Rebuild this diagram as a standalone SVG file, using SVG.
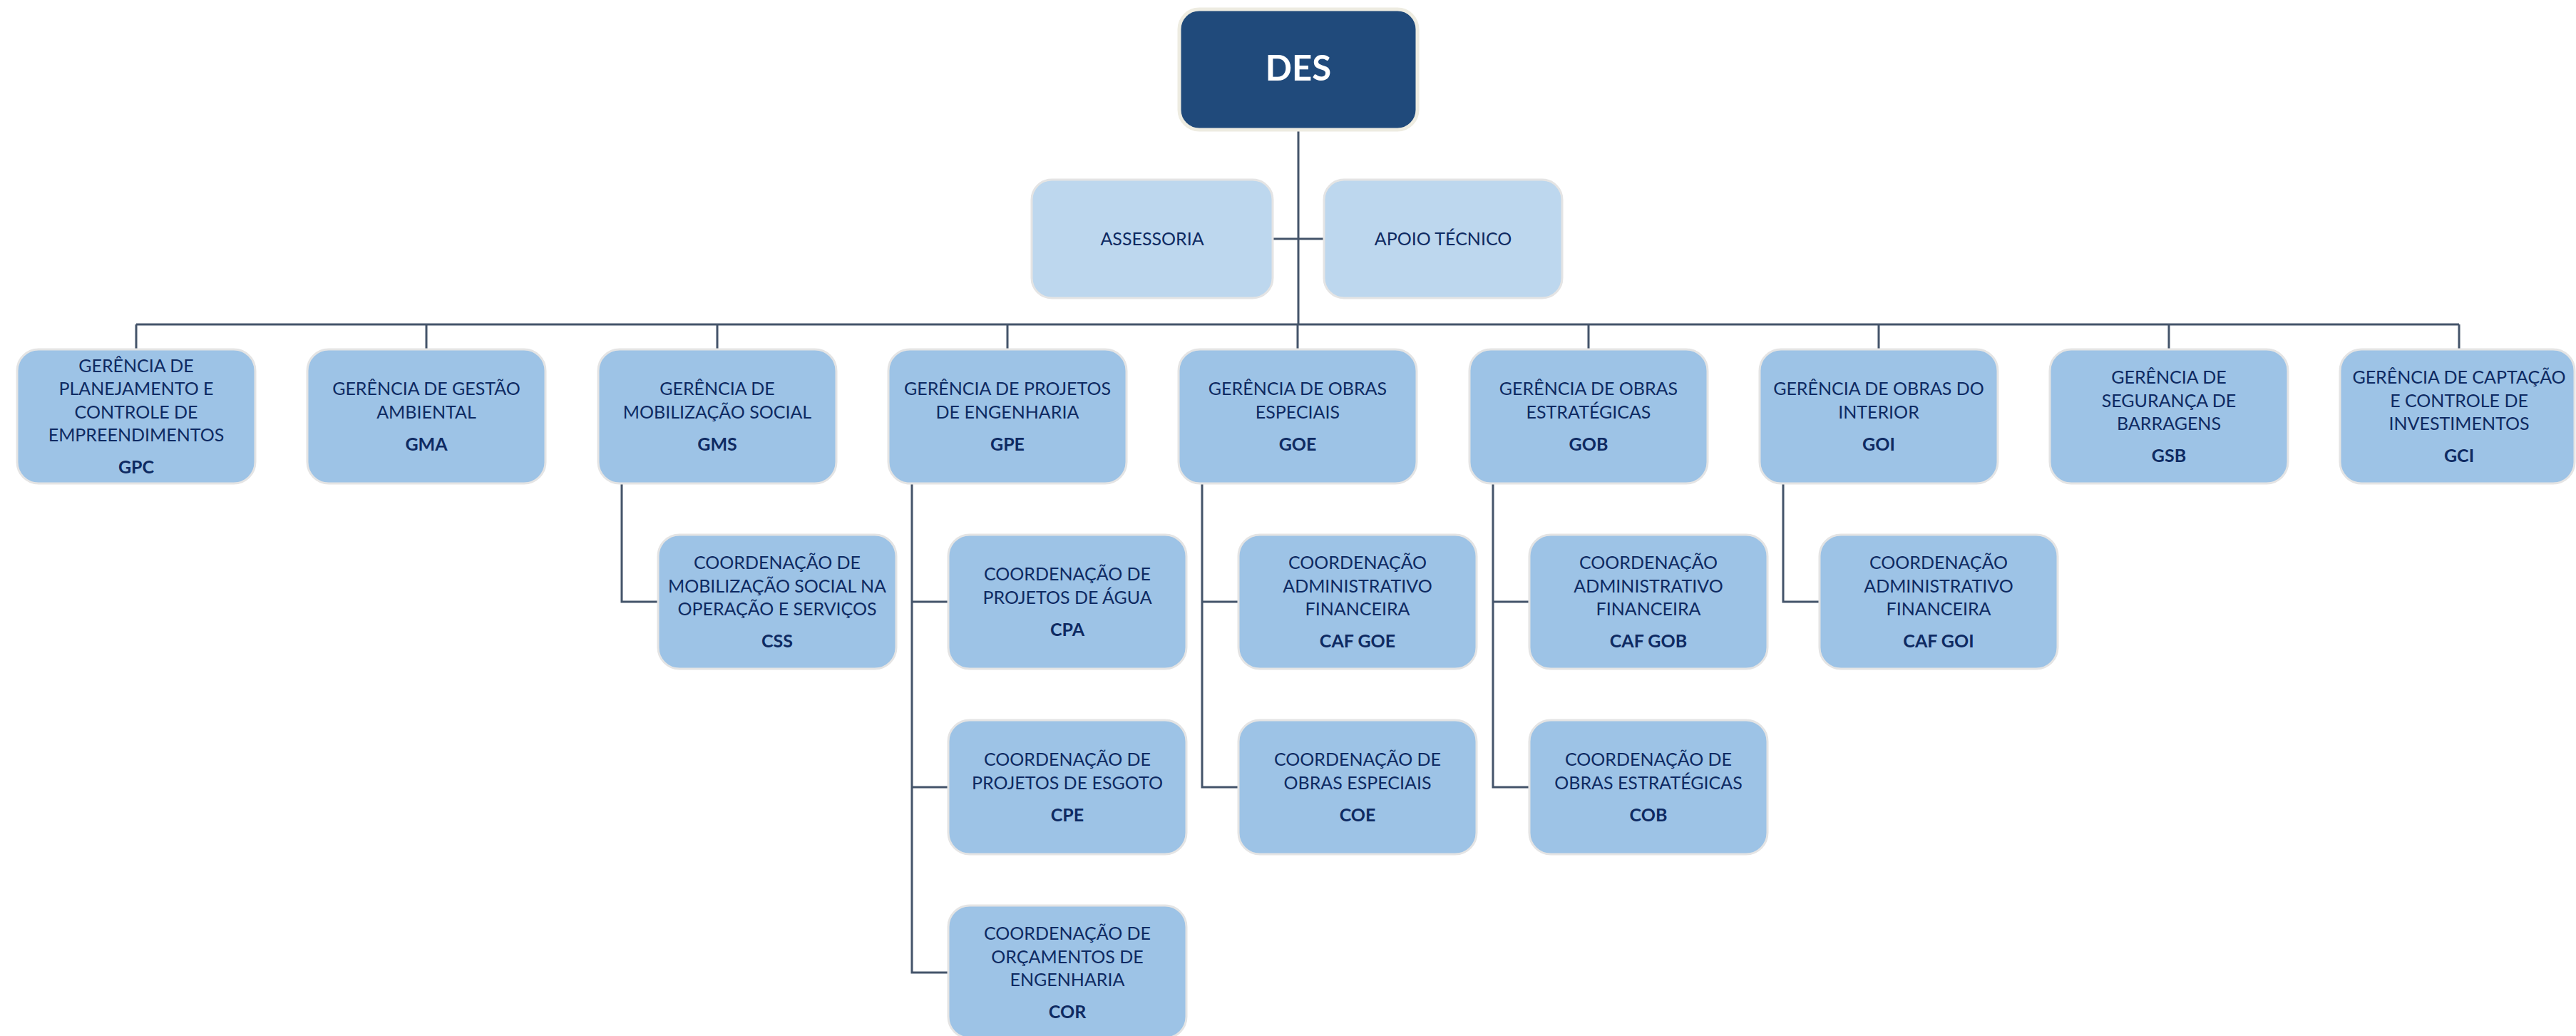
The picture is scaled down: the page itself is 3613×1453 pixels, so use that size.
<svg xmlns="http://www.w3.org/2000/svg" width="3613" height="1453" viewBox="0 0 3613 1453">
<style>
.bg{fill:#ffffff}
.top{fill:#204A7B;stroke:#EEECE1;stroke-width:5}
.aux{fill:#BDD7EE;stroke:#E4E4E4;stroke-width:3}
.box{fill:#9DC3E6;stroke:#E4E4E4;stroke-width:3}
.conn{fill:none;stroke:#44546A;stroke-width:3}
text{font-family:Lato,"Open Sans","Liberation Sans",sans-serif;font-size:25px;fill:#0E2A62;text-anchor:middle}
.code{font-weight:bold}
.des{font-size:49px;font-weight:bold;fill:#ffffff}
</style>
<rect class="bg" x="0" y="0" width="3613" height="1453"/>
<g id="connectors">
<path class="conn" d="M1821 182V455M191 455H3449M1785 335H1857"/>
<path class="conn" d="M191 455V490M598 455V490M1006 455V490M1413 455V490M1820 455V490M2228 455V490M2635 455V490M3042 455V490M3449 455V490"/>
<path class="conn" d="M872 678V844H923"/>
<path class="conn" d="M1279 678V1364H1330M1279 844H1330M1279 1104H1330"/>
<path class="conn" d="M1686 678V1104H1737M1686 844H1737"/>
<path class="conn" d="M2094 678V1104H2145M2094 844H2145"/>
<path class="conn" d="M2501 678V844H2552"/>
</g>
<g id="DES"><rect class="top" x="1654" y="13" width="334" height="169" rx="28"/><text class="des" x="1821" y="113">DES</text></g>
<g id="ASSESSORIA"><rect class="aux" x="1447" y="252" width="338" height="166" rx="28"/><text x="1616" y="344">ASSESSORIA</text></g>
<g id="APOIO"><rect class="aux" x="1857" y="252" width="334" height="166" rx="28"/><text x="2024" y="344">APOIO TÉCNICO</text></g>

<g id="GPC"><rect class="box" x="24" y="490" width="334" height="188" rx="30"/><text x="191"><tspan x="191" y="521.8">GERÊNCIA DE</tspan><tspan x="191" y="554.3">PLANEJAMENTO E</tspan><tspan x="191" y="586.8">CONTROLE DE</tspan><tspan x="191" y="619.3">EMPREENDIMENTOS</tspan><tspan class="code" x="191" y="664.3">GPC</tspan></text></g>
<g id="GMA"><rect class="box" x="431" y="490" width="334" height="188" rx="30"/><text x="598"><tspan x="598" y="554.3">GERÊNCIA DE GESTÃO</tspan><tspan x="598" y="586.8">AMBIENTAL</tspan><tspan class="code" x="598" y="631.8">GMA</tspan></text></g>
<g id="GMS"><rect class="box" x="839" y="490" width="334" height="188" rx="30"/><text x="1006"><tspan x="1006" y="554.3">GERÊNCIA DE</tspan><tspan x="1006" y="586.8">MOBILIZAÇÃO SOCIAL</tspan><tspan class="code" x="1006" y="631.8">GMS</tspan></text></g>
<g id="GPE"><rect class="box" x="1246" y="490" width="334" height="188" rx="30"/><text x="1413"><tspan x="1413" y="554.3">GERÊNCIA DE PROJETOS</tspan><tspan x="1413" y="586.8">DE ENGENHARIA</tspan><tspan class="code" x="1413" y="631.8">GPE</tspan></text></g>
<g id="GOE"><rect class="box" x="1653" y="490" width="334" height="188" rx="30"/><text x="1820"><tspan x="1820" y="554.3">GERÊNCIA DE OBRAS</tspan><tspan x="1820" y="586.8">ESPECIAIS</tspan><tspan class="code" x="1820" y="631.8">GOE</tspan></text></g>
<g id="GOB"><rect class="box" x="2061" y="490" width="334" height="188" rx="30"/><text x="2228"><tspan x="2228" y="554.3">GERÊNCIA DE OBRAS</tspan><tspan x="2228" y="586.8">ESTRATÉGICAS</tspan><tspan class="code" x="2228" y="631.8">GOB</tspan></text></g>
<g id="GOI"><rect class="box" x="2468" y="490" width="334" height="188" rx="30"/><text x="2635"><tspan x="2635" y="554.3">GERÊNCIA DE OBRAS DO</tspan><tspan x="2635" y="586.8">INTERIOR</tspan><tspan class="code" x="2635" y="631.8">GOI</tspan></text></g>
<g id="GSB"><rect class="box" x="2875" y="490" width="334" height="188" rx="30"/><text x="3042"><tspan x="3042" y="538">GERÊNCIA DE</tspan><tspan x="3042" y="570.5">SEGURANÇA DE</tspan><tspan x="3042" y="603">BARRAGENS</tspan><tspan class="code" x="3042" y="648">GSB</tspan></text></g>
<g id="GCI"><rect class="box" x="3282" y="490" width="329" height="188" rx="30"/><text x="3449"><tspan x="3449" y="538">GERÊNCIA DE CAPTAÇÃO</tspan><tspan x="3449" y="570.5">E CONTROLE DE</tspan><tspan x="3449" y="603">INVESTIMENTOS</tspan><tspan class="code" x="3449" y="648">GCI</tspan></text></g>

<g id="CSS"><rect class="box" x="923" y="750" width="334" height="188" rx="30"/><text x="1090"><tspan x="1090" y="798">COORDENAÇÃO DE</tspan><tspan x="1090" y="830.5">MOBILIZAÇÃO SOCIAL NA</tspan><tspan x="1090" y="863">OPERAÇÃO E SERVIÇOS</tspan><tspan class="code" x="1090" y="908">CSS</tspan></text></g>
<g id="CPA"><rect class="box" x="1330" y="750" width="334" height="188" rx="30"/><text x="1497"><tspan x="1497" y="814.3">COORDENAÇÃO DE</tspan><tspan x="1497" y="846.8">PROJETOS DE ÁGUA</tspan><tspan class="code" x="1497" y="891.8">CPA</tspan></text></g>
<g id="CPE"><rect class="box" x="1330" y="1010" width="334" height="188" rx="30"/><text x="1497"><tspan x="1497" y="1074.3">COORDENAÇÃO DE</tspan><tspan x="1497" y="1106.8">PROJETOS DE ESGOTO</tspan><tspan class="code" x="1497" y="1151.8">CPE</tspan></text></g>
<g id="COR"><rect class="box" x="1330" y="1270" width="334" height="186" rx="30"/><text x="1497"><tspan x="1497" y="1318">COORDENAÇÃO DE</tspan><tspan x="1497" y="1350.5">ORÇAMENTOS DE</tspan><tspan x="1497" y="1383">ENGENHARIA</tspan><tspan class="code" x="1497" y="1428">COR</tspan></text></g>
<g id="CAF_GOE"><rect class="box" x="1737" y="750" width="334" height="188" rx="30"/><text x="1904"><tspan x="1904" y="798">COORDENAÇÃO</tspan><tspan x="1904" y="830.5">ADMINISTRATIVO</tspan><tspan x="1904" y="863">FINANCEIRA</tspan><tspan class="code" x="1904" y="908">CAF GOE</tspan></text></g>
<g id="COE"><rect class="box" x="1737" y="1010" width="334" height="188" rx="30"/><text x="1904"><tspan x="1904" y="1074.3">COORDENAÇÃO DE</tspan><tspan x="1904" y="1106.8">OBRAS ESPECIAIS</tspan><tspan class="code" x="1904" y="1151.8">COE</tspan></text></g>
<g id="CAF_GOB"><rect class="box" x="2145" y="750" width="334" height="188" rx="30"/><text x="2312"><tspan x="2312" y="798">COORDENAÇÃO</tspan><tspan x="2312" y="830.5">ADMINISTRATIVO</tspan><tspan x="2312" y="863">FINANCEIRA</tspan><tspan class="code" x="2312" y="908">CAF GOB</tspan></text></g>
<g id="COB"><rect class="box" x="2145" y="1010" width="334" height="188" rx="30"/><text x="2312"><tspan x="2312" y="1074.3">COORDENAÇÃO DE</tspan><tspan x="2312" y="1106.8">OBRAS ESTRATÉGICAS</tspan><tspan class="code" x="2312" y="1151.8">COB</tspan></text></g>
<g id="CAF_GOI"><rect class="box" x="2552" y="750" width="334" height="188" rx="30"/><text x="2719"><tspan x="2719" y="798">COORDENAÇÃO</tspan><tspan x="2719" y="830.5">ADMINISTRATIVO</tspan><tspan x="2719" y="863">FINANCEIRA</tspan><tspan class="code" x="2719" y="908">CAF GOI</tspan></text></g>
</svg>
